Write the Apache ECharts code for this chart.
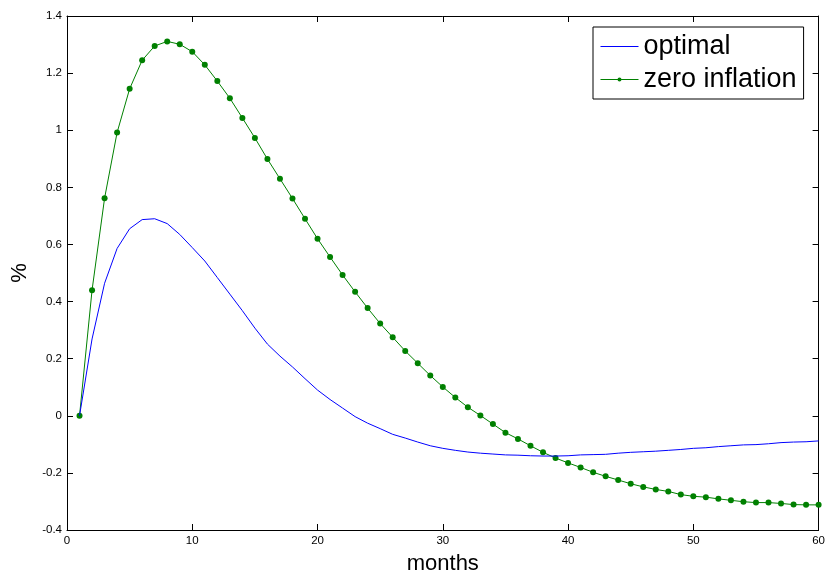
<!DOCTYPE html>
<html>
<head>
<meta charset="utf-8">
<script src="https://cdn.jsdelivr.net/npm/echarts@6/dist/echarts.min.js"></script>
<style>
  html, body { margin: 0; padding: 0; background: #fff; }
  #chart { width: 828px; height: 580px; }
</style>
</head>
<body>
<div id="chart"></div>
<script>
// months 1..60
const months = [];
for (let m = 1; m <= 60; m++) months.push(m);

const optimal = [
  0, 0.269, 0.464, 0.586, 0.655, 0.687, 0.690, 0.673, 0.635, 0.589,
  0.542, 0.484, 0.426, 0.368, 0.307, 0.251, 0.209, 0.171, 0.130, 0.090,
  0.057, 0.027, -0.003, -0.026, -0.045, -0.065, -0.078, -0.092, -0.105, -0.114,
  -0.121, -0.127, -0.131, -0.134, -0.137, -0.138, -0.140, -0.141, -0.141, -0.140,
  -0.137, -0.136, -0.135, -0.131, -0.128, -0.126, -0.124, -0.121, -0.118, -0.114,
  -0.112, -0.108, -0.105, -0.102, -0.101, -0.098, -0.094, -0.092, -0.091, -0.088
];

const zeroInflation = [
  0, 0.440, 0.762, 0.992, 1.145, 1.245, 1.295, 1.311, 1.301, 1.275,
  1.229, 1.172, 1.112, 1.043, 0.973, 0.899, 0.830, 0.761, 0.690, 0.620,
  0.556, 0.493, 0.434, 0.377, 0.323, 0.275, 0.227, 0.184, 0.141, 0.101,
  0.064, 0.030, 0.001, -0.029, -0.059, -0.081, -0.105, -0.128, -0.148, -0.165,
  -0.181, -0.198, -0.212, -0.225, -0.238, -0.249, -0.258, -0.265, -0.276, -0.282,
  -0.285, -0.291, -0.296, -0.301, -0.304, -0.304, -0.307, -0.311, -0.312, -0.312
];

const toPairs = (ys) => months.map((m, i) => [m, ys[i]]);

const chart = echarts.init(document.getElementById("chart"));

// box style axes, ticks pointing in
const axisCommon = {
  axisLine: { show: true, onZero: false, lineStyle: { color: "#000", width: 1 } },
  axisTick: { show: true, inside: true, length: 6, lineStyle: { color: "#000" } },
  splitLine: { show: false },
};

chart.setOption({
  animation: false,
  textStyle: { fontFamily: "Liberation Sans, Arial, sans-serif" },
  grid: { left: 67, right: 8, top: 16, bottom: 48 },
  legend: {
    orient: "vertical",
    left: 593,
    top: 27,
    padding: [6, 7, 6, 7],
    itemGap: 6,
    itemWidth: 38,
    itemHeight: 5,
    itemTextGap: 5,
    borderColor: "#000",
    borderWidth: 1,
    borderRadius: 0,
    backgroundColor: "#fff",
    lineStyle: { width: 1 },
    textStyle: { fontSize: 27, color: "#000" },
    data: [
      { name: "optimal", itemStyle: { opacity: 0 } },
      { name: "zero inflation" },
    ],
  },
  xAxis: [
    {
      type: "value", min: 0, max: 60, interval: 10, position: "bottom",
      name: "months", nameLocation: "middle", nameGap: 23,
      nameTextStyle: { fontSize: 22, color: "#000" },
      axisLabel: { color: "#000", fontSize: 11.5, margin: 5 },
      ...axisCommon,
    },
    {
      type: "value", min: 0, max: 60, interval: 10, position: "top",
      axisLabel: { show: false },
      ...axisCommon,
    },
  ],
  yAxis: [
    {
      type: "value", min: -0.4, max: 1.4, interval: 0.2, position: "left",
      name: "%", nameLocation: "middle", nameGap: 32, nameRotate: 90,
      nameTextStyle: { fontSize: 22, color: "#000" },
      axisLabel: {
        color: "#000", fontSize: 11.5, margin: 5,
        formatter: (v) => String(+v.toFixed(1)),
      },
      ...axisCommon,
    },
    {
      type: "value", min: -0.4, max: 1.4, interval: 0.2, position: "right",
      axisLabel: { show: false },
      ...axisCommon,
    },
  ],
  series: [
    {
      name: "optimal",
      type: "line",
      data: toPairs(optimal),
      symbol: "none",
      lineStyle: { color: "#0000ff", width: 1 },
      itemStyle: { color: "#0000ff" },
      z: 3,
    },
    {
      name: "zero inflation",
      type: "line",
      data: toPairs(zeroInflation),
      symbol: "circle",
      symbolSize: 6,
      showSymbol: true,
      lineStyle: { color: "#008000", width: 1 },
      itemStyle: { color: "#008000" },
      z: 2,
    },
  ],
});
</script>
</body>
</html>
